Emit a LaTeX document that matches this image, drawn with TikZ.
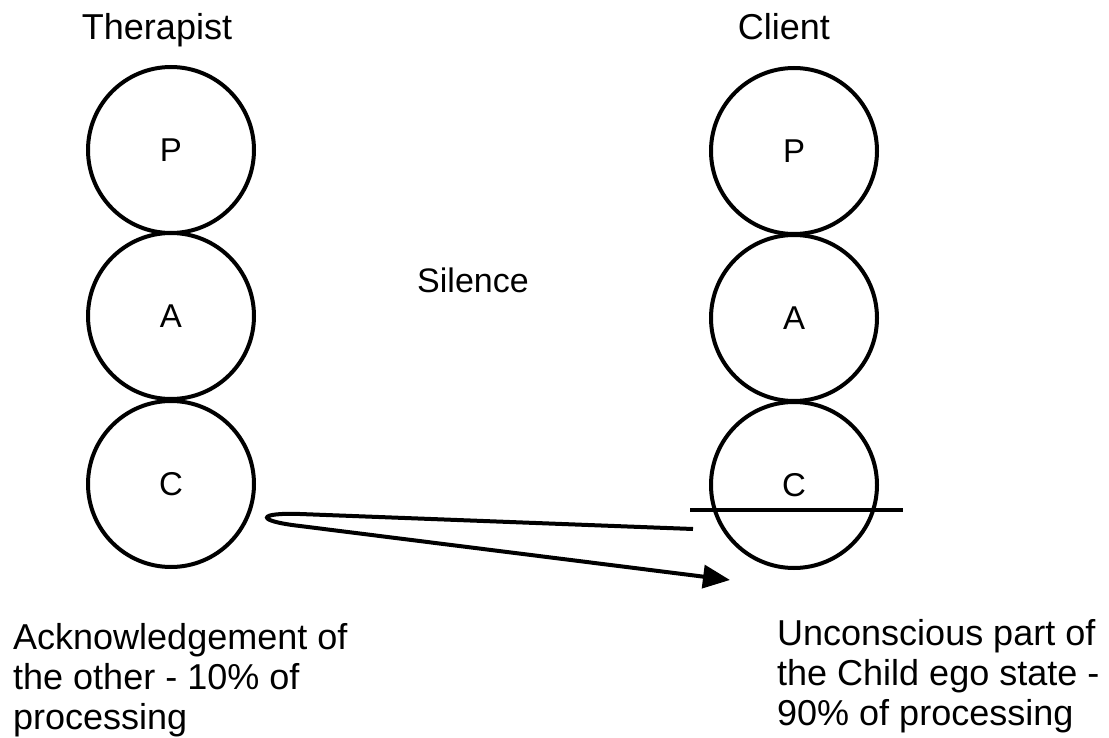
\documentclass[tikz,border=0pt]{standalone}
\usepackage{fontspec}
\setmainfont{Liberation Sans}
\usetikzlibrary{arrows.meta}

\tikzset{
  egostate/.style={circle, draw, line width=4pt, minimum size=166pt, inner sep=0pt,
                   font=\fontsize{33}{36}\selectfont},
  heading/.style={anchor=base, inner sep=0pt, font=\fontsize{36}{40}\selectfont},
  caption/.style={anchor=north west, inner sep=0pt, align=left,
                  font=\fontsize{36}{40}\selectfont},
  stroke/.style={line width=4pt},
}

\begin{document}
\begin{tikzpicture}[x=1pt, y=-1pt]
  \useasboundingbox (0,0) rectangle (1109,738);

  % ego-state stacks
  \node[egostate] (tP) at (171,150) {P};
  \node[egostate] (tA) at (171,316) {A};
  \node[egostate] (tC) at (171,484) {C};
  \node[egostate] (cP) at (794,151) {P};
  \node[egostate] (cA) at (794,318) {A};
  \node[egostate] (cC) at (794,485) {C};

  % headings
  \node[heading] (therapist) at (157,40) {Therapist};
  \node[heading] (client) at (784,40) {Client};
  \node[heading, font=\fontsize{34}{40}\selectfont] (silence) at (473,293) {Silence};

  % captions
  \node[caption] (ack) at (13,623) {Acknowledgement of\\the other - 10\% of\\processing};
  \node[caption] (unc) at (777,619) {Unconscious part of\\the Child ego state -\\90\% of processing};

  % bar across the client's Child
  \coordinate (barL) at (690,510);
  \coordinate (barR) at (903,510);
  \draw[stroke] (barL) -- (barR);

  % looped transaction
  \coordinate (loopStart) at (693,529);
  \coordinate (loopA) at (300,514);
  \coordinate (loopB) at (300,526);
  \coordinate (loopEnd) at (730,580);
  \draw[stroke, -{Triangle[length=27pt, width=23pt]}]
    (loopStart) -- (loopA)
    .. controls (256,512.5) and (256,521) .. (loopB)
    -- (loopEnd);
\end{tikzpicture}
\end{document}
